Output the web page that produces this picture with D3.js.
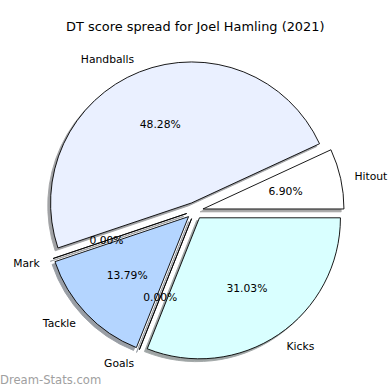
<!DOCTYPE html>
<html>
<head>
<meta charset="utf-8">
<script src="https://cdn.jsdelivr.net/npm/d3@7"></script>
<style>
  html, body { margin: 0; padding: 0; background: #fff; }
  svg { display: block; }
  text { font-family: "DejaVu Sans", sans-serif; }
</style>
</head>
<body>
<script>
const title = "DT score spread for Joel Hamling (2021)";
const categories = ["Hitout", "Handballs", "Mark", "Tackle", "Goals", "Kicks"];
const values = [2, 14, 0, 4, 0, 9];
const colors = ["#ffffff", "#eaf0ff", "#eaf0ff", "#b4d5ff", "#b4d5ff", "#d9ffff"];
const watermark = "Dream-Stats.com";

const W = 390, H = 390;
const cx = 194.7, cy = 210.8, R = 141;
const explode = 0.06 * R;
const shadowOff = 0.02 * R;

const svg = d3.select("body").append("svg").attr("width", W).attr("height", H);

svg.append("text")
  .attr("x", 195.3).attr("y", 30.5)
  .attr("text-anchor", "middle")
  .attr("font-size", 12.9)
  .attr("fill", "#000")
  .text(title);

const total = d3.sum(values);
// matplotlib: start at 3 o'clock, counter-clockwise
const pie = d3.pie().sort(null).value(d => d)
  .startAngle(Math.PI / 2).endAngle(Math.PI / 2 - 2 * Math.PI);
const arcs = pie(values);
const arc = d3.arc().innerRadius(0).outerRadius(R);

const g = svg.append("g").attr("transform", `translate(${cx},${cy})`);

function mid(d) { return (d.startAngle + d.endAngle) / 2; }
function dir(a) { return [Math.sin(a), -Math.cos(a)]; }

// shadows first
arcs.forEach((d, i) => {
  const [ux, uy] = dir(mid(d));
  const c = d3.rgb(colors[i]);
  const sc = d3.rgb(c.r * 0.3, c.g * 0.3, c.b * 0.3);
  g.append("path")
    .attr("d", arc({startAngle: d.startAngle, endAngle: d.endAngle}))
    .attr("transform", `translate(${ux * explode + -shadowOff},${uy * explode + shadowOff})`)
    .attr("fill", sc.toString())
    .attr("stroke", sc.toString())
    .attr("stroke-width", 0.9)
    .attr("opacity", 0.5);
});

arcs.forEach((d, i) => {
  const [ux, uy] = dir(mid(d));
  g.append("path")
    .attr("d", arc({startAngle: d.startAngle, endAngle: d.endAngle}))
    .attr("transform", `translate(${ux * explode},${uy * explode})`)
    .attr("fill", colors[i])
    .attr("stroke", "#000")
    .attr("stroke-width", 0.9)
    .attr("stroke-linejoin", "miter");
});

arcs.forEach((d, i) => {
  const [ux, uy] = dir(mid(d));
  const ax = ux * explode, ay = uy * explode;
  const lx = ax + ux * R * 1.1, ly = ay + uy * R * 1.1;
  g.append("text")
    .attr("x", lx).attr("y", ly)
    .attr("dy", "0.36em")
    .attr("text-anchor", lx + 0 > ax - ax + 0 && ux > 0 ? "start" : "end")
    .attr("font-size", 10.75)
    .attr("fill", "#000")
    .text(categories[i]);
  const px = ax + ux * R * 0.6, py = ay + uy * R * 0.6;
  g.append("text")
    .attr("x", px).attr("y", py)
    .attr("dy", "0.36em")
    .attr("text-anchor", "middle")
    .attr("font-size", 10.75)
    .attr("fill", "#000")
    .text((values[i] / total * 100).toFixed(2) + "%");
});

svg.append("text")
  .attr("x", 0).attr("y", 383.5)
  .attr("font-size", 11.6)
  .attr("fill", "#a0a0a0")
  .text(watermark);
</script>
</body>
</html>
